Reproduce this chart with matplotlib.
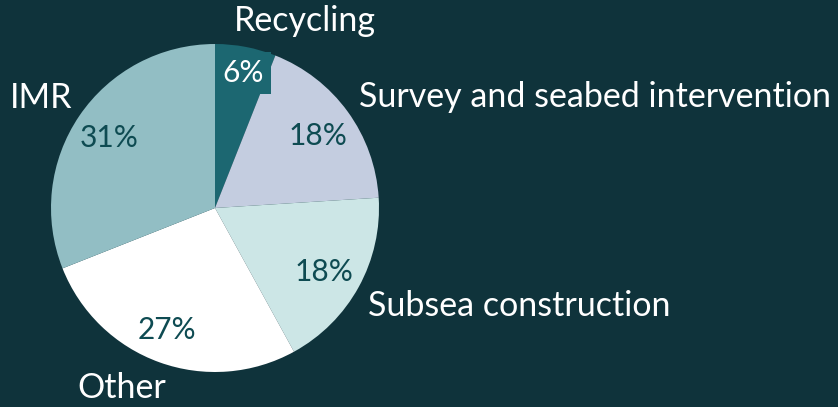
import matplotlib
matplotlib.use("Agg")
import matplotlib.pyplot as plt

# data
segments = ["Recycling", "Survey and seabed intervention", "Subsea construction", "Other", "IMR"]
shares = [6, 18, 18, 27, 31]
colors = ["#1c6771", "#c4cde0", "#cce6e6", "#ffffff", "#92bec4"]

bg = "#0f333b"
dark = "#0e4b52"

# label anchors (figure pixels, y from top)
name_pos = [(305, 21), (595, 97), (519, 306), (122, 388), (41, 98)]
pct_pos = [(243, 73), (318, 136), (324, 272), (167, 330), (109, 138)]

plt.rcParams["font.family"] = ["Lato", "DejaVu Sans"]

fig = plt.figure(figsize=(8.38, 4.07), dpi=100, facecolor=bg)
ax = fig.add_axes([0, 0, 1, 1])
ax.set_facecolor(bg)

ax.pie(shares, colors=colors, startangle=90, counterclock=False,
       center=(215, 407 - 208), radius=164, frame=True,
       wedgeprops=dict(linewidth=0))
ax.set_xlim(0, 838)
ax.set_ylim(0, 407)
ax.set_aspect("equal")
ax.axis("off")

for name, (x, y) in zip(segments, name_pos):
    ax.text(x, 407 - y, name, color="white", fontsize=24.5, ha="center", va="center")

for i, (v, (x, y)) in enumerate(zip(shares, pct_pos)):
    if i == 0:
        ax.text(x, 407 - y, f"{v}%", color="white", fontsize=21.5, ha="center", va="center",
                bbox=dict(boxstyle="square,pad=0.25", fc=colors[0], ec="none"))
    else:
        ax.text(x, 407 - y, f"{v}%", color=dark, fontsize=21.5, ha="center", va="center")

fig.savefig("out.png", dpi=100, facecolor=bg)
